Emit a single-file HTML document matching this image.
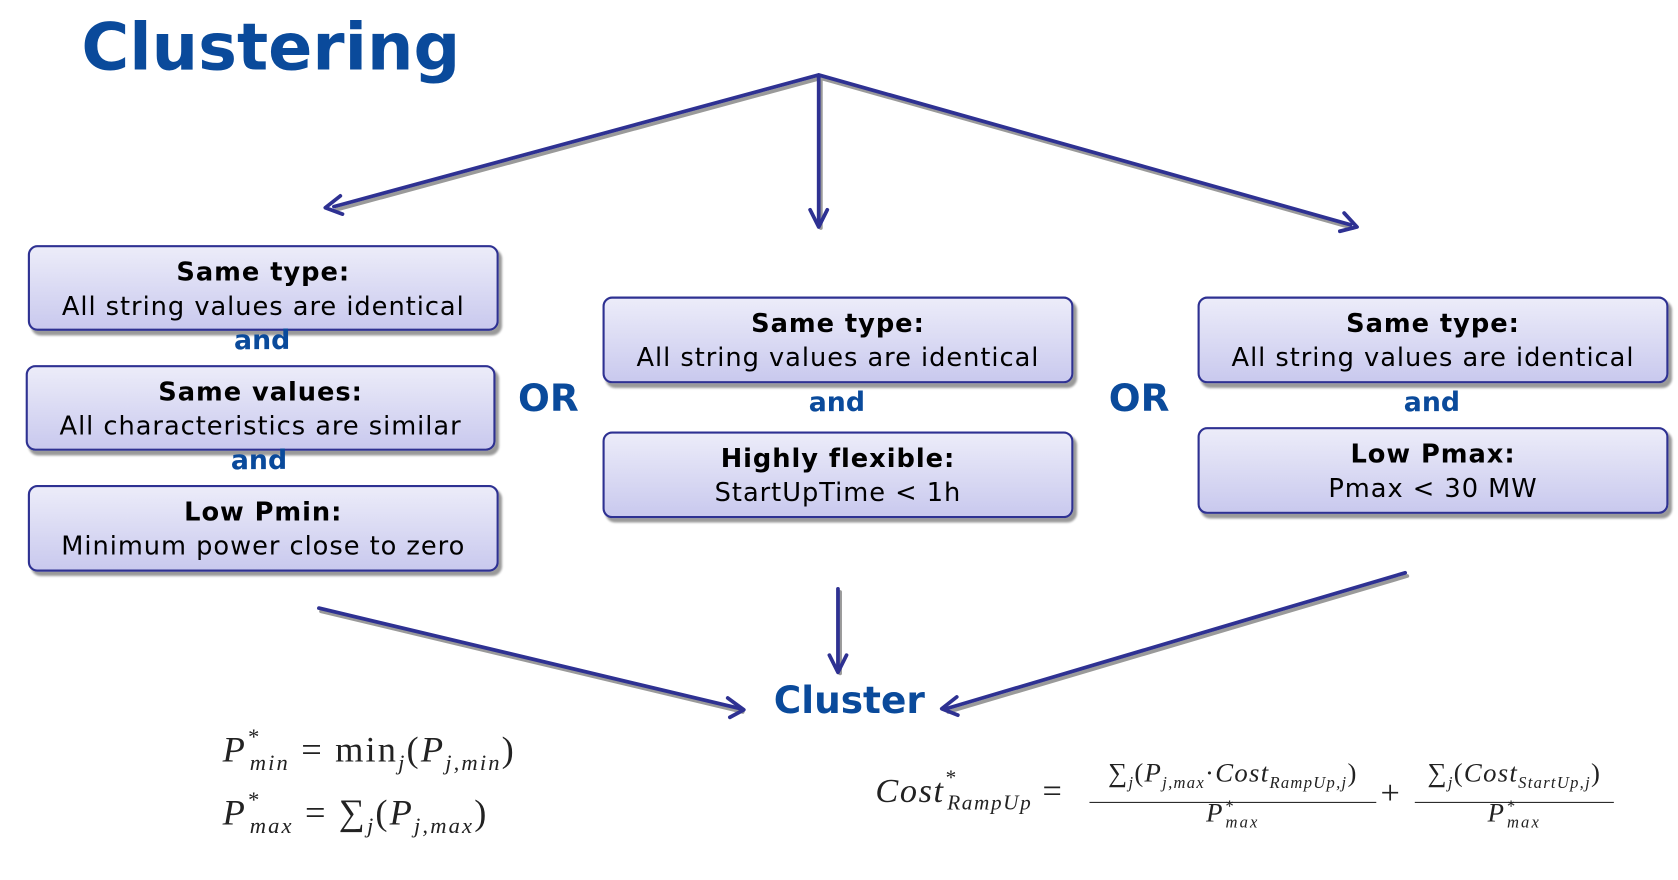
<!DOCTYPE html>
<html><head><meta charset="utf-8"><style>
html,body{margin:0;padding:0;background:#fff;overflow:hidden}
#wrap{position:absolute;left:0;top:0;width:1568px;height:822px;transform:scale(1.0702,1.0706);transform-origin:0 0}
.t{position:absolute;font-family:"DejaVu Sans","Liberation Sans",sans-serif}
.box{position:absolute;box-sizing:border-box;border:2px solid #2e3192;border-radius:9px;
background:linear-gradient(#ececf9,#c9c9ee);box-shadow:3px 4px 2px #9a9a9a;text-align:center;
font-family:"DejaVu Sans","Liberation Sans",sans-serif;font-size:24px;letter-spacing:0.9px;line-height:32px;color:#000;padding-top:7px;white-space:nowrap}
.box b{display:block}
.and{position:absolute;width:120px;text-align:center;font-family:"DejaVu Sans",sans-serif;font-weight:bold;font-size:25px;color:#0a4a9b}
.or{position:absolute;font-family:"DejaVu Sans",sans-serif;font-weight:bold;font-size:35px;color:#0a4a9b}
.m{position:absolute;font-family:"Liberation Serif","DejaVu Serif",serif;font-size:34px;letter-spacing:2px;color:#222;white-space:nowrap}
.m i{font-style:italic}
sub,sup{font-size:62%;font-style:italic}
</style></head><body><div id="wrap">
<div class="t" style="left:76px;top:9px;font-size:61px;font-weight:bold;color:#0a4a9b">Clustering</div>

<svg width="1568" height="822" style="position:absolute;left:0;top:0">
<g fill="none" stroke-linecap="round" stroke-linejoin="round">
<g stroke="#9a9a9a" stroke-width="3.5" transform="translate(2,3)">
<path d="M765 70 L312 193 M765 70 L765 210 M765 70 L1262 210 M298 568 L692 662 M783 550 L783 626 M1313 535 L884 662"/>
</g>
<g stroke="#2e3192" stroke-width="3.5">
<path d="M765 70 L312 193 M765 70 L765 210 M765 70 L1262 210 M298 568 L692 662 M783 550 L783 626 M1313 535 L884 662"/>
<path d="M318 183 L304 194 L320 200"/>
<path d="M757 196 L765 212 L773 196"/>
<path d="M1256 199 L1268 212 L1252 216"/>
<path d="M680 652 L695 663 L682 670"/>
<path d="M775 612 L783 628 L791 612"/>
<path d="M894 651 L880 662 L895 668"/>
</g></g></svg>

<div class="box" style="left:26px;top:229px;width:440px;height:80px"><b>Same type:</b>All string values are identical</div>
<div class="and" style="left:185px;top:303px">and</div>
<div class="box" style="left:24px;top:341px;width:439px;height:80px"><b>Same values:</b>All characteristics are similar</div>
<div class="and" style="left:182px;top:415px">and</div>
<div class="box" style="left:26px;top:453px;width:440px;height:81px"><b>Low Pmin:</b>Minimum power close to zero</div>

<div class="or" style="left:484px;top:353px">OR</div>
<div class="or" style="left:1036px;top:353px">OR</div>

<div class="box" style="left:563px;top:277px;width:440px;height:81px"><b>Same type:</b>All string values are identical</div>
<div class="and" style="left:722px;top:361px">and</div>
<div class="box" style="left:563px;top:403px;width:440px;height:81px"><b>Highly flexible:</b>StartUpTime &lt; 1h</div>

<div class="box" style="left:1119px;top:277px;width:440px;height:81px"><b>Same type:</b>All string values are identical</div>
<div class="and" style="left:1278px;top:361px">and</div>
<div class="box" style="left:1119px;top:399px;width:440px;height:81px"><b>Low Pmax:</b>Pmax &lt; 30 MW</div>

<div class="t" style="left:723px;top:635px;font-size:35px;font-weight:bold;color:#0a4a9b">Cluster</div>

<div class="m" style="left:208px;top:680px"><i>P</i><sup style="position:relative;top:-4px">*</sup><sub style="margin-left:-10px">min</sub> = min<sub>j</sub>(<i>P</i><sub>j,min</sub>)</div>
<div class="m" style="left:208px;top:739px"><i>P</i><sup style="position:relative;top:-4px">*</sup><sub style="margin-left:-10px">max</sub> = ∑<sub>j</sub>(<i>P</i><sub>j,max</sub>)</div>

<div class="m" style="left:818px;top:720px;font-size:32px;letter-spacing:1.5px"><i>Cost</i><sup style="position:relative;top:-4px">*</sup><sub style="margin-left:-9px">RampUp</sub> =</div>
<div class="m" style="left:1018px;top:706px;width:268px;text-align:center;font-size:25px;letter-spacing:1.2px;border-bottom:1.5px solid #222;line-height:34px">∑<sub>j</sub>(<i>P</i><sub>j,max</sub>·<i>Cost</i><sub>RampUp,j</sub>)</div>
<div class="m" style="left:1018px;top:745px;width:268px;text-align:center;font-size:25px"><i>P</i><sup>*</sup><sub style="margin-left:-9px">max</sub></div>
<div class="m" style="left:1290px;top:722px;font-size:32px">+</div>
<div class="m" style="left:1322px;top:706px;width:186px;text-align:center;font-size:25px;letter-spacing:1.2px;border-bottom:1.5px solid #222;line-height:34px">∑<sub>j</sub>(<i>Cost</i><sub>StartUp,j</sub>)</div>
<div class="m" style="left:1322px;top:745px;width:186px;text-align:center;font-size:25px"><i>P</i><sup>*</sup><sub style="margin-left:-9px">max</sub></div>
</div></body></html>
